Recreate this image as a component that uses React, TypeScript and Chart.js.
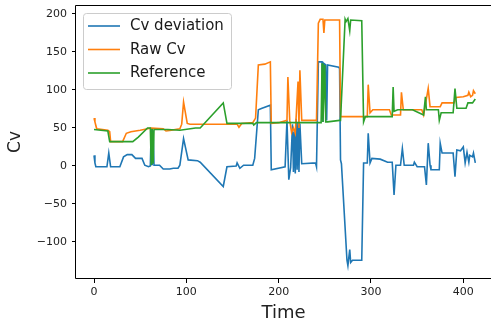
import React, { useEffect, useRef } from "react";
import { Chart, registerables } from "chart.js";

Chart.register(...registerables);

// ---- Data ----
const devT = [0, 1, 2, 14, 16, 18, 28, 32, 36, 41, 45, 52, 55, 59, 61, 62, 63, 64, 65, 71, 75, 82, 86, 91, 93, 97, 102, 112, 115, 140, 144, 154, 155, 158, 162, 172, 174, 178, 182, 191, 192, 207, 209, 211, 213, 215, 216, 217, 218, 219, 220, 221, 222, 223, 225, 240, 241, 243, 247, 248, 249, 251, 252, 253, 265, 266, 267, 268, 274, 275, 277, 278, 280, 290, 292, 296, 297, 299, 301, 310, 318, 323, 325, 327, 332, 334, 336, 346, 347, 350, 358, 360, 362, 364, 365, 374, 375, 377, 389, 391, 393, 397, 400, 402, 404, 406, 407, 410, 411, 413];
const devV = [14, 4, -1, -1, 17, -1, -1, 12, 15, 15, 10, 10, 1, -1, 0, 49, 1, 47, 1, 1, -4, -4, -3, -3, 1, 36, 8, 7, 5, -27, -1, 0, 4, -3, 1, 1, 10, 74, 76, 80, -5, -1, 60, -18, -2, 55, -8, 45, -10, 62, -5, 58, -8, 56, 3, 4, -1, 137, 137, 58, 135, 133, 60, 133, 130, 128, 8, 3, -124, -131, -110, -127, -124, -124, 4, 4, 43, 4, 10, 9, 5, 5, -38, 1, 1, 23, 1, 1, 5, -1, -1, -25, 30, 1, -5, -5, 30, 17, 17, -14, 21, 20, 25, 4, 18, 5, 14, 12, 17, 4];

const rawT = [0, 1, 3, 15, 17, 18, 31, 35, 40, 50, 58, 62, 75, 78, 84, 88, 93, 95, 97, 101, 104, 155, 157, 160, 172, 175, 178, 185, 191, 192, 200, 209, 210, 212, 214, 216, 218, 221, 222, 223, 225, 241, 243, 245, 248, 249, 250, 266, 267, 296, 297, 299, 302, 320, 322, 332, 333, 335, 355, 357, 362, 364, 375, 377, 390, 392, 400, 405, 406, 408, 410, 411, 413];
const rawV = [63, 58, 49, 47, 45, 32, 32, 43, 45, 47, 49, 50, 49, 46, 47, 48, 49, 55, 84, 56, 55, 55, 51, 56, 57, 63, 133, 134, 137, 56, 57, 60, 117, 60, 44, 50, 43, 111, 50, 126, 60, 60, 188, 193, 193, 175, 192, 192, 65, 65, 107, 70, 74, 74, 67, 67, 97, 74, 74, 67, 102, 78, 78, 83, 83, 90, 91, 93, 97, 91, 93, 99, 95];

const refT = [0, 15, 17, 42, 48, 58, 61, 62, 63, 64, 65, 80, 93, 110, 115, 140, 144, 172, 173, 176, 246, 247, 248, 250, 251, 253, 266, 267, 272, 273, 275, 277, 278, 290, 292, 294, 323, 324, 325, 329, 345, 357, 359, 360, 373, 374, 376, 389, 391, 393, 403, 405, 410, 413];
const refV = [48, 46, 32, 32, 38, 50, 50, 1, 49, 3, 48, 48, 47, 50, 50, 83, 56, 56, 54, 57, 57, 135, 58, 133, 58, 58, 60, 60, 193, 190, 194, 178, 192, 191, 58, 65, 65, 104, 72, 74, 74, 67, 91, 74, 74, 60, 70, 70, 102, 76, 76, 83, 83, 88];

const seriesNames = ["Cv deviation", "Raw Cv", "Reference"];
const seriesColors = ["#1f77b4", "#ff7f0e", "#2ca02c"];
const xTicks = [0, 100, 200, 300, 400];
const yTicks = [-100, -50, 0, 50, 100, 150, 200];
const xTitle = "Time";
const yTitle = "Cv";

const FONT = "'DejaVu Sans', sans-serif";

function pts(t: number[], v: number[]) {
  return t.map((x, i) => ({ x, y: v[i] }));
}

const fmt = (v: number) => (v < 0 ? "\u2212" + Math.abs(v) : String(v));

const framePlugin = {
  id: "frame",
  afterDatasetsDraw(chart: any) {
    const { ctx, chartArea } = chart;
    const l = Math.round(chartArea.left) - 0.5;
    const t = Math.round(chartArea.top) + 0.5;
    const b = Math.round(chartArea.bottom) - 0.5;
    ctx.save();
    ctx.strokeStyle = "#000";
    ctx.lineWidth = 1;
    ctx.beginPath();
    ctx.moveTo(chart.width + 5, t);
    ctx.lineTo(l, t);
    ctx.lineTo(l, b);
    ctx.lineTo(chart.width + 5, b);
    ctx.stroke();
    ctx.restore();
  },
};

const legendPlugin = {
  id: "mplLegend",
  afterDraw(chart: any) {
    const { ctx } = chart;
    const x = 83.5, y = 13.5, w = 148, h = 76, r = 3;
    ctx.save();
    ctx.beginPath();
    ctx.moveTo(x + r, y);
    ctx.lineTo(x + w - r, y);
    ctx.arcTo(x + w, y, x + w, y + r, r);
    ctx.lineTo(x + w, y + h - r);
    ctx.arcTo(x + w, y + h, x + w - r, y + h, r);
    ctx.lineTo(x + r, y + h);
    ctx.arcTo(x, y + h, x, y + h - r, r);
    ctx.lineTo(x, y + r);
    ctx.arcTo(x, y, x + r, y, r);
    ctx.closePath();
    ctx.fillStyle = "rgba(255,255,255,0.8)";
    ctx.fill();
    ctx.strokeStyle = "#cccccc";
    ctx.lineWidth = 1;
    ctx.stroke();
    ctx.font = `15px ${FONT}`;
    ctx.textBaseline = "middle";
    ctx.textAlign = "left";
    seriesNames.forEach((name, i) => {
      const ly = 26 + i * 23.5;
      ctx.strokeStyle = seriesColors[i];
      ctx.lineWidth = 1.6;
      ctx.beginPath();
      ctx.moveTo(88, ly);
      ctx.lineTo(120, ly);
      ctx.stroke();
      ctx.fillStyle = "#1a1a1a";
      ctx.fillText(name, 130, ly + 0.5);
    });
    ctx.restore();
  },
};

export default function App() {
  const ref = useRef<HTMLCanvasElement>(null);
  useEffect(() => {
    const series = [pts(devT, devV), pts(rawT, rawV), pts(refT, refV)];
    const chart = new Chart(ref.current as HTMLCanvasElement, {
      type: "line",
      data: {
        datasets: series.map((d, i) => ({
          label: seriesNames[i],
          data: d,
          borderColor: seriesColors[i],
          backgroundColor: seriesColors[i],
          borderWidth: 1.6,
          pointRadius: 0,
          tension: 0,
          fill: false,
          order: 3 - i,
        })),
      },
      options: {
        animation: false,
        responsive: false,
        devicePixelRatio: 1,
        layout: { padding: { top: 5, right: 0, left: 0, bottom: 0 } },
        plugins: { legend: { display: false }, tooltip: { enabled: false } },
        scales: {
          x: {
            type: "linear",
            min: -19.5,
            max: 430,
            afterBuildTicks: (s: any) => {
              s.ticks = xTicks.map((v) => ({ value: v }));
            },
            afterFit: (s: any) => {
              s.height = 47;
              s.paddingLeft = 0;
              s.paddingRight = 0;
            },
            grid: { display: true, drawOnChartArea: false, drawTicks: true, tickLength: 4, color: "#000", lineWidth: 1 },
            border: { display: false },
            ticks: { autoSkip: false, maxRotation: 0, padding: 3, color: "#222", font: { family: FONT, size: 11 }, callback: (v: any) => fmt(Number(v)) },
            title: { display: true, text: xTitle, color: "#222", font: { family: FONT, size: 18 }, padding: { top: 0, bottom: 2 } },
          },
          y: {
            type: "linear",
            min: -148.7,
            max: 211.8,
            afterBuildTicks: (s: any) => {
              s.ticks = yTicks.map((v) => ({ value: v }));
            },
            afterFit: (s: any) => {
              s.width = 76;
              s.paddingTop = 0;
              s.paddingBottom = 0;
            },
            grid: { display: true, drawOnChartArea: false, drawTicks: true, tickLength: 4, color: "#000", lineWidth: 1 },
            border: { display: false },
            ticks: { autoSkip: false, padding: 5, color: "#222", font: { family: FONT, size: 11 }, callback: (v: any) => fmt(Number(v)) },
            title: { display: true, text: yTitle, color: "#222", font: { family: FONT, size: 17 }, padding: { top: 5, bottom: 0 } },
          },
        },
      },
      plugins: [framePlugin, legendPlugin],
    } as any);
    return () => chart.destroy();
  }, []);
  return (
    <div style={{ position: "absolute", left: 0, top: 0, width: 491, height: 326, background: "#fff" }}>
      <canvas ref={ref} width={491} height={326} />
    </div>
  );
}
